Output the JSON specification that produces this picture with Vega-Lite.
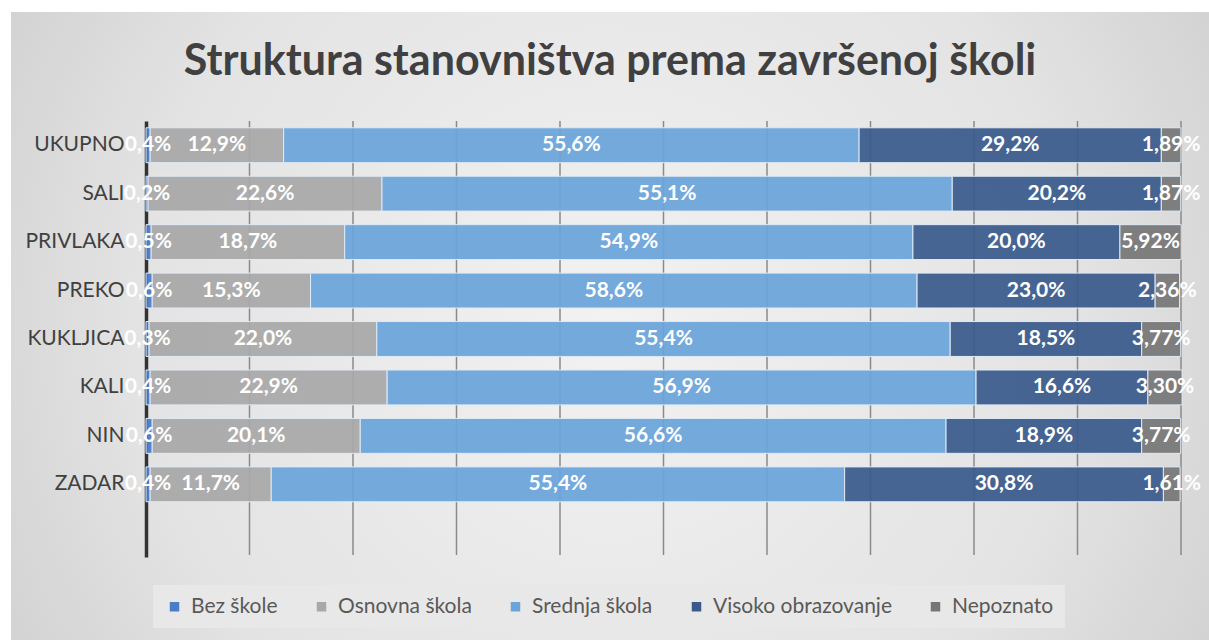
{
  "$schema": "https://vega.github.io/schema/vega-lite/v6.json",
  "width": 1198,
  "height": 628,
  "autosize": {"type": "none"},
  "padding": {"left": 11, "top": 12, "right": 0, "bottom": 0},
  "background": "#ffffff",
  "config": {
    "locale": {"number": {"decimal": ",", "thousands": ".", "grouping": [3], "currency": ["", " €"]}},
    "font": "Lato"
  },
  "view": {
    "stroke": null,
    "fill": {
      "gradient": "radial",
      "x1": 0.5, "y1": 0.5, "r1": 0,
      "x2": 0.5, "y2": 0.5, "r2": 0.72,
      "stops": [
        {"offset": 0, "color": "#f2f2f2"},
        {"offset": 0.55, "color": "#e3e3e3"},
        {"offset": 1, "color": "#c4c4c4"}
      ]
    }
  },
  "title": {
    "text": "Struktura stanovništva prema završenoj školi",
    "font": "Lato",
    "fontSize": 43,
    "fontWeight": "bold",
    "color": "#404040",
    "anchor": "middle",
    "baseline": "alphabetic",
    "offset": -106
  },
  "resolve": {"scale": {"y": "independent"}},
  "layer": [
    {
      "data": {"values": [
        {"g": 0.1}, {"g": 0.2}, {"g": 0.3}, {"g": 0.4}, {"g": 0.5},
        {"g": 0.6}, {"g": 0.7}, {"g": 0.8}, {"g": 0.9}, {"g": 1.0}
      ]},
      "mark": {"type": "rule", "color": "#8a8a8a", "strokeWidth": 1.5},
      "encoding": {
        "x": {"field": "g", "type": "quantitative", "scale": {"domain": [0, 1], "range": [135, 1170]}, "axis": null},
        "y": {"datum": 0, "type": "quantitative", "scale": {"domain": [0, 1], "range": [109, 543]}, "axis": null},
        "y2": {"datum": 1}
      }
    },
    {
      "data": {"values": [
        {"place": "UKUPNO", "edu": "Bez škole", "v": 0.004},
        {"place": "UKUPNO", "edu": "Osnovna škola", "v": 0.129},
        {"place": "UKUPNO", "edu": "Srednja škola", "v": 0.556},
        {"place": "UKUPNO", "edu": "Visoko obrazovanje", "v": 0.292},
        {"place": "UKUPNO", "edu": "Nepoznato", "v": 0.0189},
        {"place": "SALI", "edu": "Bez škole", "v": 0.002},
        {"place": "SALI", "edu": "Osnovna škola", "v": 0.226},
        {"place": "SALI", "edu": "Srednja škola", "v": 0.551},
        {"place": "SALI", "edu": "Visoko obrazovanje", "v": 0.202},
        {"place": "SALI", "edu": "Nepoznato", "v": 0.0187},
        {"place": "PRIVLAKA", "edu": "Bez škole", "v": 0.005},
        {"place": "PRIVLAKA", "edu": "Osnovna škola", "v": 0.187},
        {"place": "PRIVLAKA", "edu": "Srednja škola", "v": 0.549},
        {"place": "PRIVLAKA", "edu": "Visoko obrazovanje", "v": 0.200},
        {"place": "PRIVLAKA", "edu": "Nepoznato", "v": 0.0592},
        {"place": "PREKO", "edu": "Bez škole", "v": 0.006},
        {"place": "PREKO", "edu": "Osnovna škola", "v": 0.153},
        {"place": "PREKO", "edu": "Srednja škola", "v": 0.586},
        {"place": "PREKO", "edu": "Visoko obrazovanje", "v": 0.230},
        {"place": "PREKO", "edu": "Nepoznato", "v": 0.0236},
        {"place": "KUKLJICA", "edu": "Bez škole", "v": 0.003},
        {"place": "KUKLJICA", "edu": "Osnovna škola", "v": 0.220},
        {"place": "KUKLJICA", "edu": "Srednja škola", "v": 0.554},
        {"place": "KUKLJICA", "edu": "Visoko obrazovanje", "v": 0.185},
        {"place": "KUKLJICA", "edu": "Nepoznato", "v": 0.0377},
        {"place": "KALI", "edu": "Bez škole", "v": 0.004},
        {"place": "KALI", "edu": "Osnovna škola", "v": 0.229},
        {"place": "KALI", "edu": "Srednja škola", "v": 0.569},
        {"place": "KALI", "edu": "Visoko obrazovanje", "v": 0.166},
        {"place": "KALI", "edu": "Nepoznato", "v": 0.0330},
        {"place": "NIN", "edu": "Bez škole", "v": 0.006},
        {"place": "NIN", "edu": "Osnovna škola", "v": 0.201},
        {"place": "NIN", "edu": "Srednja škola", "v": 0.566},
        {"place": "NIN", "edu": "Visoko obrazovanje", "v": 0.189},
        {"place": "NIN", "edu": "Nepoznato", "v": 0.0377},
        {"place": "ZADAR", "edu": "Bez škole", "v": 0.004},
        {"place": "ZADAR", "edu": "Osnovna škola", "v": 0.117},
        {"place": "ZADAR", "edu": "Srednja škola", "v": 0.554},
        {"place": "ZADAR", "edu": "Visoko obrazovanje", "v": 0.308},
        {"place": "ZADAR", "edu": "Nepoznato", "v": 0.0161}
      ]},
      "transform": [
        {"stack": "v", "groupby": ["place"], "as": ["v0", "v1"]},
        {"calculate": "(datum.v0 + datum.v1) / 2", "as": "vm"}
      ],
      "layer": [
        {
          "mark": {"type": "bar", "stroke": "#dfeaf6", "strokeWidth": 1, "fillOpacity": 0.93},
          "encoding": {
            "x": {"field": "v0", "type": "quantitative", "scale": {"domain": [0, 1], "range": [135, 1170]}, "axis": null},
            "x2": {"field": "v1"},
            "y": {
              "field": "place", "type": "nominal",
              "scale": {
                "domain": ["UKUPNO", "SALI", "PRIVLAKA", "PREKO", "KUKLJICA", "KALI", "NIN", "ZADAR", " "],
                "range": [109, 545],
                "paddingInner": 0.28,
                "paddingOuter": 0.14
              },
              "axis": {
                "orient": "left",
                "offset": -135,
                "title": null,
                "ticks": false,
                "grid": false,
                "domainColor": "#333333",
                "domainWidth": 3.5,
                "labelFont": "Lato",
                "labelFontSize": 21,
                "labelColor": "#404040",
                "labelPadding": 22
              }
            },
            "color": {
              "field": "edu", "type": "nominal",
              "scale": {
                "domain": ["Bez škole", "Osnovna škola", "Srednja škola", "Visoko obrazovanje", "Nepoznato"],
                "range": ["#4a7cc8", "#a8a8a8", "#6ba4da", "#3a5a8c", "#767676"]
              },
              "legend": {
                "orient": "none",
                "legendX": 142,
                "legendY": 573,
                "direction": "horizontal",
                "columns": 5,
                "title": null,
                "fillColor": "#e8e8e8",
                "padding": 11,
                "symbolType": "square",
                "symbolSize": 90,
                "symbolStrokeWidth": 0,
                "labelFont": "Lato",
                "labelFontSize": 21,
                "labelLimit": 400,
                "labelColor": "#595959",
                "labelOffset": 6,
                "columnPadding": 33
              }
            }
          }
        },
        {
          "transform": [{"filter": "datum.edu !== 'Nepoznato'"}],
          "mark": {"type": "text", "color": "#ffffff", "font": "Lato", "fontSize": 21, "fontWeight": "bold"},
          "encoding": {
            "x": {"field": "vm", "type": "quantitative"},
            "y": {"field": "place", "type": "nominal"},
            "text": {"field": "v", "type": "quantitative", "format": ".1%"}
          }
        },
        {
          "transform": [{"filter": "datum.edu === 'Nepoznato'"}],
          "mark": {"type": "text", "color": "#ffffff", "font": "Lato", "fontSize": 21, "fontWeight": "bold"},
          "encoding": {
            "x": {"field": "vm", "type": "quantitative"},
            "y": {"field": "place", "type": "nominal"},
            "text": {"field": "v", "type": "quantitative", "format": ".2%"}
          }
        }
      ]
    }
  ]
}
